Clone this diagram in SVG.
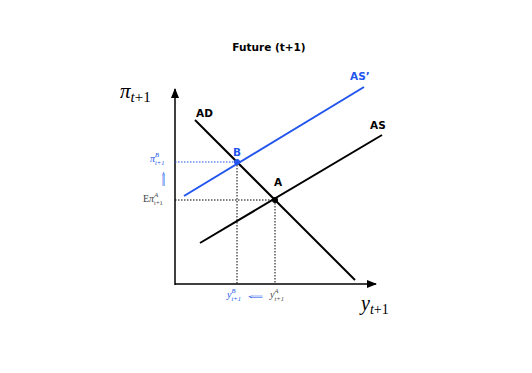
<svg xmlns="http://www.w3.org/2000/svg" width="532" height="373" viewBox="0 0 532 373">
<style>
.lbl{font-family:"DejaVu Sans","Liberation Sans",sans-serif;font-weight:bold;font-size:10.5px}
.math{font-family:"Liberation Serif","DejaVu Serif",serif}
.blue{fill:#2255ee}
.dot{stroke-width:1;stroke-dasharray:1.5,1.5;fill:none}
.curve{stroke-width:2;fill:none}
</style>
<defs>
<marker id="ah" markerWidth="10" markerHeight="10" refX="9" refY="5" orient="auto" markerUnits="userSpaceOnUse">
<path d="M0,1 L10,5 L0,9 Z" fill="#000"/>
</marker>
</defs>
<rect width="532" height="373" fill="#fff"/>
<text class="lbl" x="269" y="51" text-anchor="middle">Future (t+1)</text>
<g id="axes">
<line x1="175" y1="285" x2="175" y2="89" stroke="#000" stroke-width="1.5" marker-end="url(#ah)"/>
<line x1="175" y1="284" x2="376" y2="284" stroke="#000" stroke-width="1.5" marker-end="url(#ah)"/>
</g>
<g id="connectors">
<line class="dot" x1="175" y1="162" x2="237" y2="162" stroke="#2255ee"/>
<line class="dot" x1="175" y1="200" x2="275" y2="200" stroke="#000"/>
<line class="dot" x1="237" y1="162" x2="237" y2="284" stroke="#000"/>
<line class="dot" x1="275" y1="200" x2="275" y2="284" stroke="#000"/>
</g>
<g id="AD">
<line class="curve" x1="195" y1="120" x2="355" y2="280" stroke="#000"/>
<text class="lbl" x="196" y="117">AD</text>
</g>
<g id="AS">
<line class="curve" x1="200" y1="243" x2="382" y2="135" stroke="#000"/>
<text class="lbl" x="370" y="129">AS</text>
</g>
<g id="ASprime">
<line class="curve" x1="184" y1="196" x2="364" y2="87" stroke="#2255ee"/>
<text class="lbl blue" x="350" y="80">AS’</text>
</g>
<g id="pointB">
<circle cx="237" cy="162" r="3" fill="#2255ee"/>
<text class="lbl blue" x="233" y="156">B</text>
</g>
<g id="pointA">
<circle cx="275" cy="200" r="3" fill="#000"/>
<text class="lbl" x="274" y="186">A</text>
</g>
<g id="axis-labels" class="math">
<text x="120" y="98" font-size="21" font-style="italic">π<tspan font-size="15" dy="4">t</tspan><tspan font-size="15" font-style="normal">+1</tspan></text>
<text x="361" y="310" font-size="20" font-style="italic">y<tspan font-size="14" dy="4">t</tspan><tspan font-size="14" font-style="normal">+1</tspan></text>
</g>
<g id="pi-labels" class="math">
<text class="blue" x="150" y="162" font-size="10" font-style="italic">π<tspan font-size="6.5" dy="-5">B</tspan><tspan font-size="6.5" dx="-4" dy="8">t+1</tspan></text>
<text class="blue" x="0" y="0" font-size="12" transform="translate(163.5,179) scale(0.6,1.6)" text-anchor="middle" dominant-baseline="central">⇑</text>
<text x="143" y="202" font-size="10" fill="#444">E<tspan font-style="italic">π</tspan><tspan font-size="6.5" font-style="italic" dy="-5">A</tspan><tspan font-size="6.5" dx="-4" dy="8">t+1</tspan></text>
</g>
<g id="y-labels" class="math">
<text class="blue" x="227" y="298" font-size="10" font-style="italic">y<tspan font-size="6.5" dy="-5">B</tspan><tspan font-size="6.5" dx="-4" dy="8">t+1</tspan></text>
<text class="blue" x="0" y="0" font-size="12" transform="translate(255.5,297) scale(1.6,0.6)" text-anchor="middle" dominant-baseline="central">⇐</text>
<text x="270" y="298" font-size="10" font-style="italic" fill="#444">y<tspan font-size="6.5" dy="-5">A</tspan><tspan font-size="6.5" dx="-4" dy="8">t+1</tspan></text>
</g>
</svg>
